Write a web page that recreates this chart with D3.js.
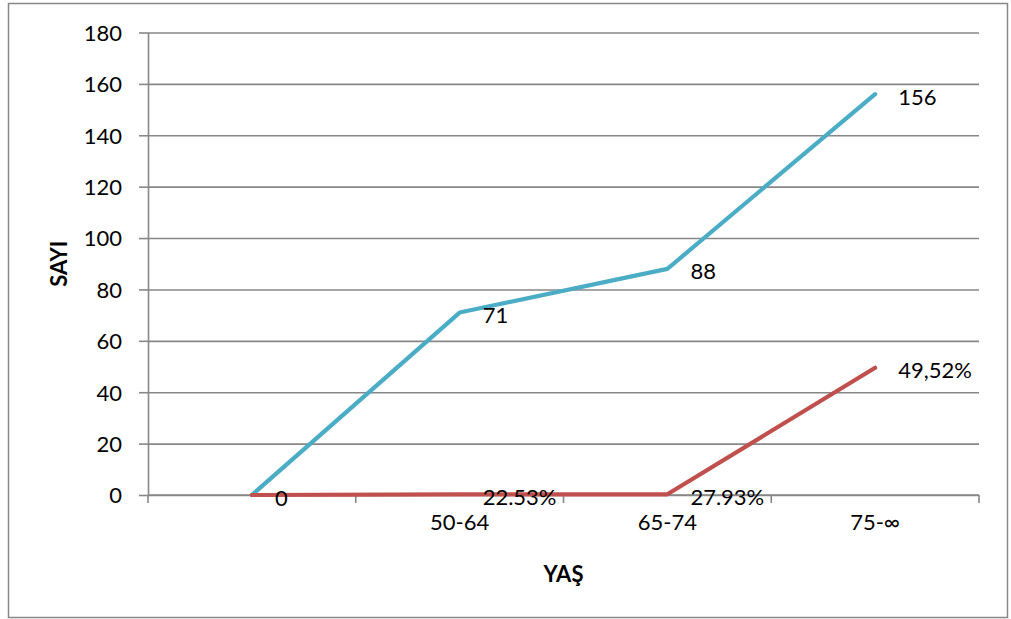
<!DOCTYPE html>
<html>
<head>
<meta charset="utf-8">
<script src="https://cdn.jsdelivr.net/npm/d3@7"></script>
<style>
  html, body { margin: 0; padding: 0; background: #fff; }
  svg { display: block; }
  text { font-family: Lato, "Noto Sans", sans-serif; fill: #000; }
</style>
</head>
<body>
<svg id="chart" width="1011" height="619"></svg>
<script>
// Age groups on the x axis
const categories = ["", "50-64", "65-74", "75-∞"];
// Count per age group (blue series)
const countValues = [0, 71, 88, 156];
const countLabels = ["0", "71", "88", "156"];
// Percentage series (red series)
const percentValues = [0, 0.2253, 0.2793, 49.52];
const percentLabels = [null, "22.53%", "27.93%", "49,52%"];
// Y axis ticks
const yTicks = [0, 20, 40, 60, 80, 100, 120, 140, 160, 180];

const svg = d3.select("#chart");
const plot = { left: 148, right: 979, top: 32.5, bottom: 495 };
const gridColor = "#878787";
const fontSize = 22;

// Outer frame
svg.append("rect")
  .attr("x", 8.5).attr("y", 3.5)
  .attr("width", 999).attr("height", 614)
  .attr("fill", "#fff")
  .attr("stroke", gridColor).attr("stroke-width", 1.5);

const x = d3.scaleBand().domain(categories).range([plot.left, plot.right]).padding(0);
const y = d3.scaleLinear().domain([0, 180]).range([plot.bottom, plot.top]);
const cx = c => x(c) + x.bandwidth() / 2;

// Horizontal gridlines
svg.append("g")
  .attr("transform", `translate(${plot.left},0)`)
  .call(d3.axisLeft(y).tickValues(yTicks).tickSize(-(plot.right - plot.left)).tickFormat(""))
  .call(g => g.select(".domain").remove())
  .call(g => g.selectAll("line").attr("stroke", gridColor).attr("stroke-width", 1.6));

// Y axis with small outward ticks and labels
svg.append("g")
  .attr("transform", `translate(${plot.left},0)`)
  .call(d3.axisLeft(y).tickValues(yTicks).tickSize(9).tickPadding(17).tickSizeOuter(0))
  .call(g => g.select(".domain").attr("stroke", gridColor).attr("stroke-width", 1.6))
  .call(g => g.selectAll("line").attr("stroke", gridColor).attr("stroke-width", 1.6))
  .call(g => g.selectAll("text")
    .attr("font-size", fontSize).attr("font-family", "Lato, 'Noto Sans', sans-serif")
    .attr("fill", "#000").attr("dy", "0.36em"));

// X axis: boundary ticks between age groups
const boundaries = categories.map(c => x(c)).concat([plot.right]);
svg.append("g").selectAll("line").data(boundaries).join("line")
  .attr("x1", d => d).attr("x2", d => d)
  .attr("y1", plot.bottom).attr("y2", plot.bottom + 8)
  .attr("stroke", gridColor).attr("stroke-width", 1.6);
svg.append("line")
  .attr("x1", plot.left).attr("x2", plot.right)
  .attr("y1", plot.bottom).attr("y2", plot.bottom)
  .attr("stroke", gridColor).attr("stroke-width", 1.6);

// X category labels
svg.append("g")
  .attr("transform", `translate(0,${plot.bottom})`)
  .call(d3.axisBottom(x).tickSize(0).tickPadding(19))
  .call(g => g.select(".domain").remove())
  .call(g => g.selectAll("text")
    .attr("font-size", fontSize).attr("font-family", "Lato, 'Noto Sans', sans-serif")
    .attr("fill", "#000"));

// Axis titles
svg.append("text")
  .attr("x", (plot.left + plot.right) / 2).attr("y", 573)
  .attr("text-anchor", "middle").attr("dominant-baseline", "central")
  .attr("font-size", 22).attr("font-weight", "bold")
  .text("YAŞ");
svg.append("text")
  .attr("transform", `translate(58,${(plot.top + plot.bottom) / 2}) rotate(-90)`)
  .attr("text-anchor", "middle").attr("dominant-baseline", "central")
  .attr("font-size", 22).attr("font-weight", "bold")
  .text("SAYI");

const line = d3.line().x(d => cx(d.c)).y(d => y(d.v));
const series = [
  { values: countValues, labels: countLabels, color: "#4BACC6" },
  { values: percentValues, labels: percentLabels, color: "#C0504D" }
];

series.forEach(s => {
  const pts = categories.map((c, i) => ({ c, v: s.values[i], label: s.labels[i] }));
  svg.append("path")
    .datum(pts)
    .attr("d", line)
    .attr("fill", "none")
    .attr("stroke", s.color)
    .attr("stroke-width", 4.2)
    .attr("stroke-linejoin", "round")
    .attr("stroke-linecap", "round");
  s.pts = pts;
});

// Data labels to the right of each point
series.forEach(s => {
  svg.append("g").selectAll("text")
    .data(s.pts.filter(d => d.label))
    .join("text")
    .attr("x", d => cx(d.c) + 23)
    .attr("y", d => y(d.v) + 2)
    .attr("dominant-baseline", "central")
    .attr("font-size", fontSize)
    .text(d => d.label);
});
</script>
</body>
</html>
